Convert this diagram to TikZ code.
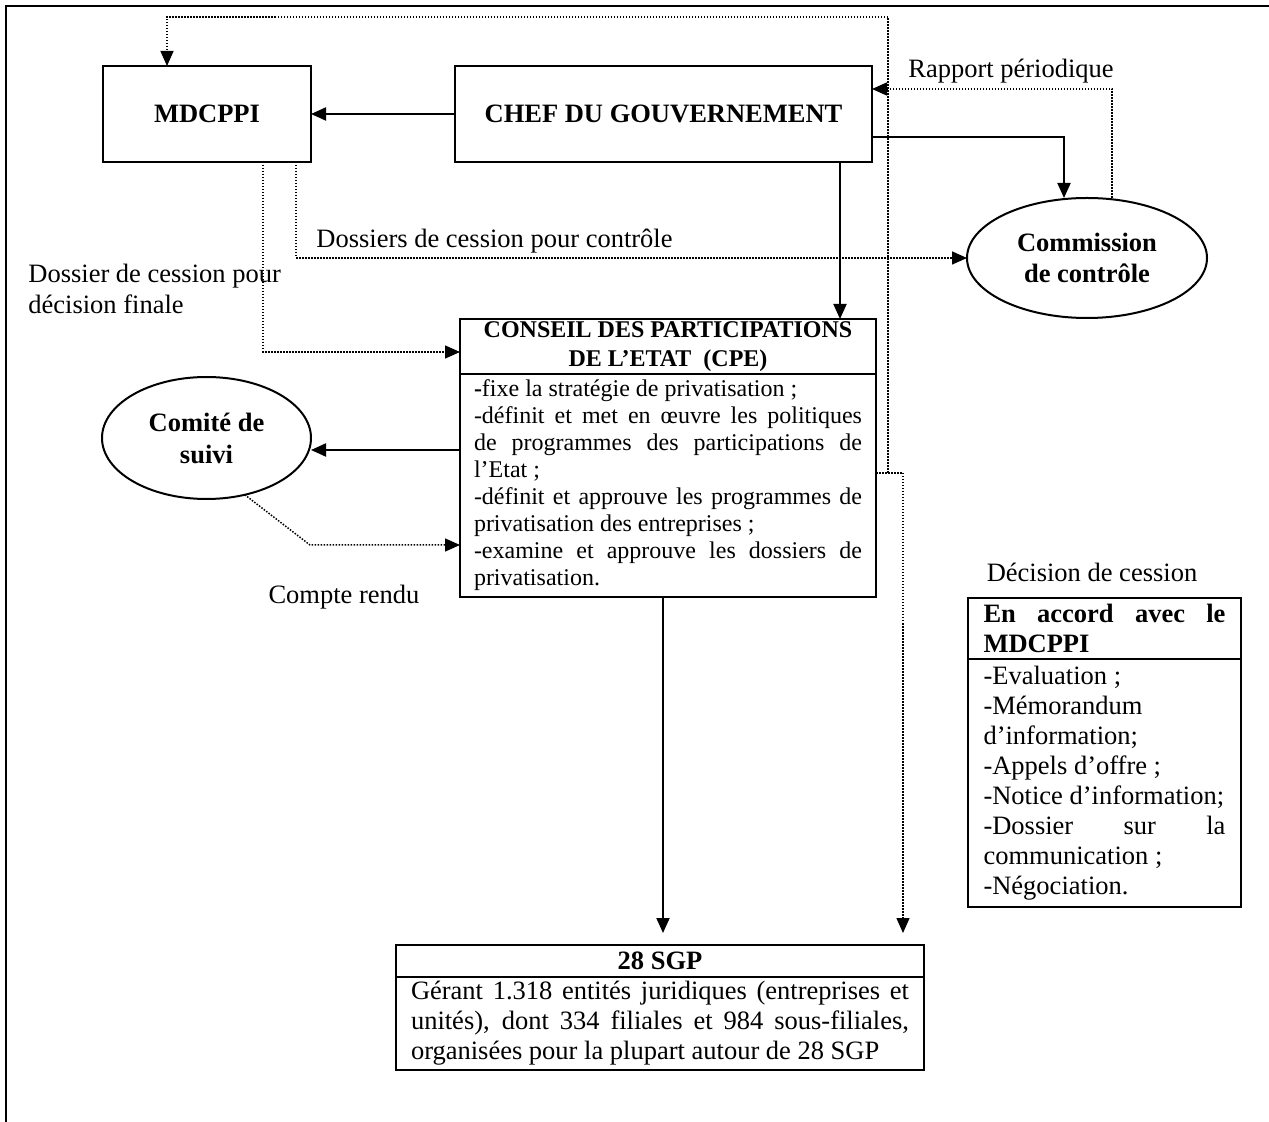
\documentclass[tikz,border=0pt]{standalone}
\usepackage{fontspec}
\setmainfont{Liberation Serif}
\usetikzlibrary{positioning,shapes.geometric,arrows.meta}
\newcommand{\TxtSize}{\fontsize{13.25}{15}\selectfont\hyphenpenalty=10000\exhyphenpenalty=10000}
\newcommand{\CpeSize}{\fontsize{12}{13.5}\selectfont\hyphenpenalty=10000\exhyphenpenalty=10000}

\begin{document}
\begin{tikzpicture}[x=0.5pt,y=-0.5pt,
  box/.style={draw, line width=1pt, rectangle, inner sep=0pt, outer sep=0pt},
  oval/.style={draw, line width=1pt, ellipse, inner sep=0pt, outer sep=0pt, align=center},
  lbl/.style={inner sep=0pt, font=\TxtSize},
  arr/.style={line width=1pt, -{Triangle[length=7.5pt,width=6.5pt]}},
  dots/.style={line width=0.75pt, dash pattern=on 0.75pt off 0.75pt},
  dotarr/.style={dots, -{Triangle[length=7.5pt,width=6.5pt]}}]

\useasboundingbox (0,0) rectangle (1269,1122);
\draw [line width=1pt] (6,1122) -- (6,6) -- (1269,6);

\node [box, minimum width=104pt, minimum height=48pt, font=\TxtSize\bfseries] (mdcppi) at (207,114) {MDCPPI};
\node [box, minimum width=208.5pt, minimum height=48pt, font=\TxtSize\bfseries] (chef) at (663.5,114) {CHEF DU GOUVERNEMENT};

\node [oval, minimum width=120pt, minimum height=60pt, font=\fontsize{13.25}{15.5}\selectfont\bfseries] (comm) at (1087,258) {Commission\\de contrôle};
\node [oval, minimum width=104.5pt, minimum height=61pt, font=\fontsize{13.25}{16}\selectfont\bfseries] (comite) at (206.5,438) {Comité de\\suivi};

% conseil des participations
\node [box, minimum width=208pt, minimum height=27.5pt, align=center, font=\fontsize{12}{14.5}\selectfont\bfseries] (cpehead) at (668,346.5) {CONSEIL DES PARTICIPATIONS\\DE L’ETAT~~(CPE)};
\node [box, below=0pt of cpehead, text width=194pt, inner xsep=7pt, minimum height=111.5pt, align=justify, font=\CpeSize] (cpebody) {%
\textbf{-}fixe la stratégie de privatisation ;\par
-définit et met en œuvre les politiques\linebreak de programmes des participations de\linebreak l’Etat ;\par
-définit et approuve les programmes de\linebreak privatisation des entreprises ;\par
-examine et approuve les dossiers de\linebreak privatisation.};

% decision de cession
\node [box, text width=121pt, inner xsep=7.75pt, minimum height=30.5pt, align=justify, font=\TxtSize\bfseries] (accordhead) at (1104.5,628.5) {En accord avec le\linebreak MDCPPI};
\node [box, below=0pt of accordhead, text width=121pt, inner xsep=7.75pt, minimum height=124pt, align=justify, font=\TxtSize] (accordbody) {%
-Evaluation ;\par
-Mémorandum\linebreak d’information;\par
-Appels d’offre ;\par
-Notice d’information;\par
-Dossier sur la\linebreak communication ;\par
-Négociation.};

\node [box, minimum width=264pt, minimum height=16pt, font=\TxtSize\bfseries] (sgphead) at (660,961) {28 SGP};
\node [box, below=0pt of sgphead, text width=249pt, inner xsep=7.5pt, minimum height=46.5pt, align=justify, font=\TxtSize] (sgpbody) {%
Gérant 1.318 entités juridiques (entreprises et\linebreak unités), dont 334 filiales et 984 sous-filiales,\linebreak organisées pour la plupart autour de 28 SGP};

\node [lbl] (rapport) at (1011,71) {Rapport périodique};
\node [lbl, anchor=west] (ctrl) at (316,241) {Dossiers de cession pour contrôle};
\node [lbl, anchor=west, align=left, font=\fontsize{13.25}{15.5}\selectfont] (finale) at (28,289) {Dossier de cession pour\\décision finale};
\node [lbl] (compte) at (344,597) {Compte rendu};
\node [lbl] (decision) at (1092,572) {Décision de cession};

\coordinate (tap) at (888,473);
\coordinate (drop) at (903,473);
\coordinate (ttop) at (888,17);
\coordinate (bend) at (310,545);

\draw [arr] (chef.west) -- (mdcppi.east);
\draw [arr] ([yshift=12.5pt]chef.south east) -| ([xshift=-11.5pt]comm.north);
\draw [arr] ([xshift=-16pt]chef.south east) -- ([xshift=-16pt]chef.south east |- cpehead.north);
\draw [dotarr] ([xshift=12.5pt]comm.north) |- ([yshift=-11.5pt]chef.north east);

\draw [dots] (cpebody.east |- tap) -- (drop);
\draw [dotarr, shorten >=6pt] (drop) -- (drop |- sgphead.north);
\draw [dotarr] (tap) -- (ttop) -| ([xshift=-20pt]mdcppi.north);

\draw [dotarr] ([xshift=44.5pt]mdcppi.south) |- (comm.west);
\draw [dotarr] ([xshift=28pt]mdcppi.south) |- ([yshift=-2.75pt]cpehead.west);

\draw [arr] ([yshift=17.75pt]cpebody.west) -- ([yshift=17.75pt]cpebody.west -| comite.east);
\draw [dotarr] (comite.-56) -- (bend) -- (bend -| cpebody.west);

\draw [arr, shorten >=6pt] ([xshift=-2.5pt]cpebody.south) -- ([xshift=-2.5pt]cpebody.south |- sgphead.north);

\end{tikzpicture}
\end{document}
